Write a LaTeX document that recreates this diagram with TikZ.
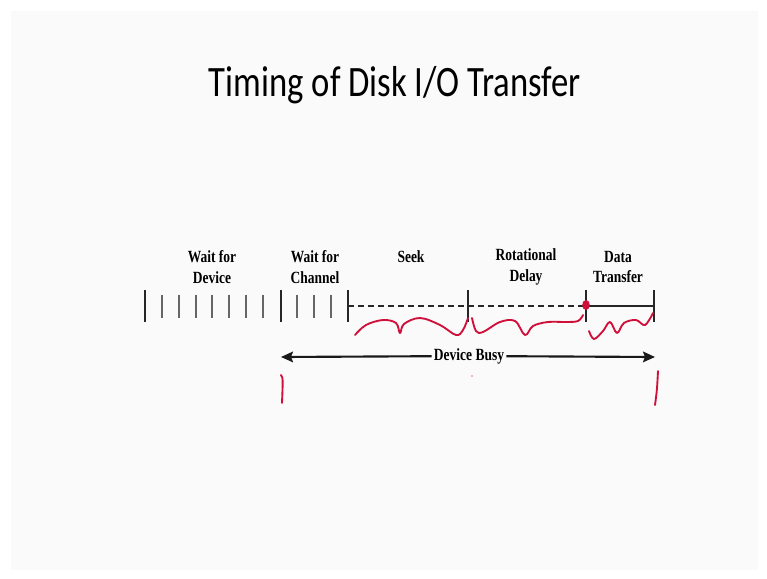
\documentclass[tikz,border=0pt]{standalone}
\usepackage{fontspec}
\setmainfont{Liberation Serif}[FakeStretch=0.79]
\newfontfamily\titlefont{Carlito}[FakeStretch=0.80]
\usetikzlibrary{arrows.meta}
\definecolor{slidebg}{HTML}{FAFAFA}
\definecolor{ink}{HTML}{D0103A}
\tikzset{
  lbl/.style={font=\fontsize{12.8}{15.6}\selectfont\bfseries, align=center, inner sep=0pt},
  bigtick/.style={line width=1.6pt, black!85},
  smalltick/.style={line width=1.1pt, black!60},
  dashline/.style={line width=1.5pt, black!85, dash pattern=on 4.5pt off 3pt},
  solidline/.style={line width=1.6pt, black!85},
  busyarrow/.style={line width=1.6pt, black!90, -{Stealth[length=9pt,width=8pt,inset=1.5pt]}},
  pen/.style={ink, line width=1.4pt, line cap=round, line join=round}
}
\begin{document}
\begin{tikzpicture}[x=0.75pt,y=-0.75pt]
\useasboundingbox (0,0) rectangle (767,578);
\fill[white] (0,0) rectangle (767,578);
\fill[slidebg] (11,11) rectangle (758,570);

% title
\node[font=\titlefont\fontsize{32.5}{36}\selectfont, anchor=base] (title) at (395,96) {Timing of Disk I/O Transfer};

% time line division points
\coordinate (t0) at (145,306);
\coordinate (t1) at (281,306);
\coordinate (t2) at (348,306);
\coordinate (t3) at (468,306);
\coordinate (t4) at (586,306);
\coordinate (t5) at (654,306);

% phase labels
\node[lbl] (wdev) at (212,267) {Wait for\\Device};
\node[lbl] (wch) at (315,267) {Wait for\\Channel};
\node[lbl] (seek) at (411,257) {Seek};
\node[lbl] (rot) at (526,267) {Rotational\\Delay};
\node[lbl] (xfer) at (618,267) {Data\\Transfer};

% waiting: tick marks
\foreach \p in {t0,t1,t2,t3,t4,t5}
  \draw[bigtick] (\p) ++(0,-16) -- ++(0,32);
\foreach \x in {162,179,196,212,229,246,263,297,314,331}
  \draw[smalltick] (\x,294.5) -- (\x,318);

% seek and rotational delay dashed, transfer solid
\draw[dashline] (t2) -- (t3);
\draw[dashline] (t3) -- (t4);
\draw[solidline] (t4) -- (t5);

% device busy span
\coordinate (b0) at (281,357);
\coordinate (b1) at (655,357);
\node[font=\fontsize{12.8}{14}\selectfont\bfseries, fill=slidebg, inner sep=1.5pt] (busy) at (469,356) {Device Busy};
\draw[busyarrow] (busy) -- (b0);
\draw[busyarrow] (busy) -- (b1);

% red pen annotations
\fill[ink] (t4) ++(0,-1) ellipse (3.8 and 5);
\draw[pen] plot[smooth, tension=0.6] coordinates {(355,335) (366,325) (383,320) (396,323) (400,333) (404,324) (420,318) (440,325) (456,335) (463,330) (468,318)};
\draw[pen] plot[smooth, tension=0.6] coordinates {(472,318) (476,331) (483,332) (500,322) (515,321) (525,335) (533,326) (548,322) (566,322) (578,321) (583,315)};
\draw[pen] plot[smooth, tension=0.6] coordinates {(589,331) (594,339) (603,331) (610,322) (617,333) (624,323) (636,320) (645,325) (653,313)};
\draw[pen] (281,375) .. controls (283,378) .. (282,403);
\draw[pen] (658,371) .. controls (657,390) .. (655,405);
\fill[ink!60] (472,376) circle (0.8);
\end{tikzpicture}
\end{document}
